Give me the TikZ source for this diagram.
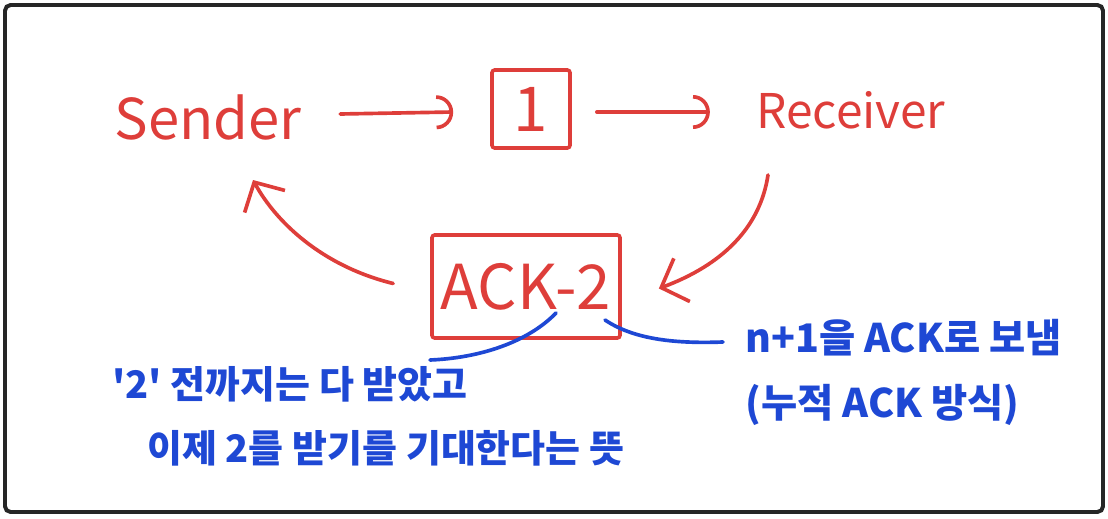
\documentclass[tikz,border=0pt]{standalone}
\usepackage{fontspec}
\setmainfont{Noto Sans CJK KR}[Ligatures=TeXOff]
\usetikzlibrary{arrows.meta,calc}
\definecolor{pred}{RGB}{222,62,58}
\definecolor{pblue}{RGB}{30,72,212}
\begin{document}
\begin{tikzpicture}[x=0.025cm,y=-0.025cm,
  redline/.style={draw=pred,line width=2.6pt,line cap=round,line join=round},
  blueline/.style={draw=pblue,line width=2.6pt,line cap=round},
  redtxt/.style={text=pred,inner sep=0pt},
  redbox/.style={draw=pred,line width=2.6pt,rounded corners=2pt,inner sep=0pt},
  bluetxt/.style={text=pblue,inner sep=0pt,anchor=west},
  hooktip/.style={-{Arc Barb[length=0.42cm,width=0.85cm]}},
  barbtip/.style={-{Straight Barb[length=0.55cm,width=1.15cm]}},
]
\useasboundingbox (0,0) rectangle (1108,518);
\draw[line width=2.8pt,rounded corners=4pt,draw=black!85] (5,5) rectangle (1103,512);

% top row
\node[redtxt,font=\fontsize{40}{40}\selectfont] (sender) at (208,117) {Sender};
\node[redbox,minimum width=1.95cm,minimum height=1.95cm,text=pred,font=\fontsize{44}{44}\selectfont] (one) at (531,109) {1};
\node[redtxt,font=\fontsize{34}{34}\selectfont] (receiver) at (851,110) {Receiver};

% ACK box
\node[redbox,minimum width=4.7cm,minimum height=2.575cm,text=pred,font=\fontsize{44}{44}\selectfont] (ack) at (526,286.5) {ACK-2};

% horizontal arrows
\draw[redline,hooktip] ($(one.west)+(-150,5)$) -- ($(one.west)+(-37,3)$);
\draw[redline,hooktip] ($(one.east)+(25,3)$) -- ($(one.east)+(138,3)$);

% curved arrows
\coordinate (recvout) at (768,175);
\coordinate (sendin) at (253,180);
\draw[redline,barbtip] (recvout) .. controls (760,228) and (722,265) .. ($(ack.east)+(37,2)$);
\draw[redline,barbtip] ($(ack.west)+(-37,-3)$) .. controls (322,266) and (276,222) .. (sendin);

% blue notes
\node[bluetxt,font=\fontsize{27}{27}\bfseries] (note1a) at (112,384) {'2' 전까지는 다 받았고};
\node[bluetxt,font=\fontsize{27}{27}\bfseries] (note1b) at (147,448) {이제 2를 받기를 기대한다는 뜻};
\node[bluetxt,font=\fontsize{28}{28}\bfseries] (note2a) at (745,338) {n+1을 ACK로 보냄};
\node[bluetxt,font=\fontsize{28}{28}\bfseries] (note2b) at (745,405) {(누적 ACK 방식)};

\coordinate (ackl) at (556,313);
\coordinate (ackr) at (605,320);
\coordinate (n1end) at (430,360);
\draw[blueline] (ackl) .. controls (528,342) and (480,358) .. (n1end);
\draw[blueline] (ackr) .. controls (632,338) and (670,344) .. ($(note2a.west)+(-22,4)$);
\end{tikzpicture}
\end{document}
